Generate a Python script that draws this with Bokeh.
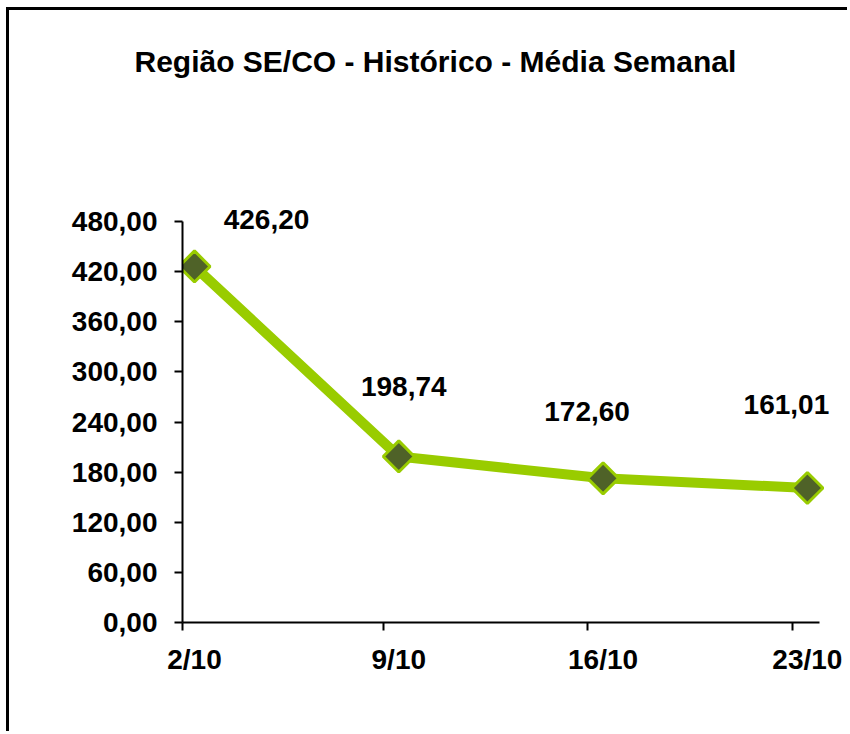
import math
from bokeh.plotting import figure
from bokeh.models import ColumnDataSource, Range1d, FixedTicker, LinearAxis
from bokeh.core.properties import value
from bokeh.embed import file_html
from bokeh.resources import INLINE

# ---- data ----
categories = ["2/10", "9/10", "16/10", "23/10"]
values = [426.20, 198.74, 172.60, 161.01]
value_labels = ["426,20", "198,74", "172,60", "161,01"]
y_ticks = [0, 60, 120, 180, 240, 300, 360, 420, 480]
title_text = "Região SE/CO - Histórico - Média Semanal"

# ---- style / placement ----
label_dx = [72, 5, -16, -21]
label_dy = [-47, -70, -67, -83]
FONT = "Liberation Sans"
LINE_GREEN = "#99CC00"
MARKER_FILL = "#4F6228"

xs = list(range(len(categories)))
x_start = -0.0587
x_end = 3.211
tick_shift = 0.075
x_tick_pos = [max(x - tick_shift, x_start) for x in xs]
y_axis_max = 480
y_view_max = 618.9

src = ColumnDataSource(dict(x=xs, y=values, lab=value_labels, dx=label_dx, dy=label_dy))

p = figure(width=841, height=724, output_backend="svg", toolbar_location=None,
           x_range=Range1d(x_start, x_end), y_range=Range1d(0, y_view_max),
           min_border_left=173, min_border_right=0, min_border_top=95,
           min_border_bottom=112, x_axis_location=None, y_axis_location=None,
           background_fill_color="white", border_fill_color="white")
p.outline_line_color = None
p.xgrid.visible = False
p.ygrid.visible = False
p.styles = {"border-left": "3px solid #000000", "border-top": "3px solid #000000",
            "margin-left": "6px", "margin-top": "7px"}

# title
p.title.text = title_text
p.title.text_font = FONT
p.title.text_font_style = "bold"
p.title.text_font_size = "30px"
p.title.text_color = "black"
p.title.align = "left"
p.title.offset = -48
p.title.standoff = 56

# y axis
yax = LinearAxis(bounds=(0, y_axis_max))
yax.ticker = FixedTicker(ticks=y_ticks)
yax.major_label_overrides = {t: f"{t:.2f}".replace(".", ",") for t in y_ticks}
yax.minor_tick_line_color = None
yax.major_tick_in = 0
yax.major_tick_out = 8
yax.major_tick_line_width = 2
yax.axis_line_width = 2
yax.axis_line_color = "black"
yax.major_tick_line_color = "black"
yax.major_label_text_font = FONT
yax.major_label_text_font_style = "bold"
yax.major_label_text_font_size = "28px"
yax.major_label_text_color = "black"
yax.major_label_standoff = 17
p.add_layout(yax, "left")

# x axis (tick marks only)
xax = LinearAxis(bounds=(x_start, 3 - x_start))
xax.ticker = FixedTicker(ticks=x_tick_pos)
xax.major_label_overrides = {t: "" for t in x_tick_pos}
xax.major_label_text_font_size = "1px"
xax.major_label_standoff = 0
xax.minor_tick_line_color = None
xax.major_tick_in = 0
xax.major_tick_out = 8
xax.major_tick_line_width = 2
xax.axis_line_width = 2
xax.axis_line_color = "black"
xax.major_tick_line_color = "black"
p.add_layout(xax, "below")

# x axis (category labels at the points)
xlab = LinearAxis()
xlab.ticker = FixedTicker(ticks=xs)
xlab.major_label_overrides = {x: c for x, c in zip(xs, categories)}
xlab.axis_line_color = None
xlab.major_tick_line_color = None
xlab.minor_tick_line_color = None
xlab.major_tick_in = 0
xlab.major_tick_out = 0
xlab.major_label_text_font = FONT
xlab.major_label_text_font_style = "bold"
xlab.major_label_text_font_size = "28px"
xlab.major_label_text_color = "black"
xlab.major_label_standoff = 13
p.add_layout(xlab, "below")

# series
p.line("x", "y", source=src, line_width=10, line_color=LINE_GREEN, line_join="round")
p.scatter("x", "y", source=src, marker="square", angle=math.pi / 4, size=22,
          fill_color=MARKER_FILL, line_color=LINE_GREEN, line_width=3)

p.text("x", "y", text="lab", source=src, x_offset="dx", y_offset="dy",
       text_align="center", text_baseline="alphabetic",
       text_font=value(FONT), text_font_style="bold", text_font_size="28px",
       text_color="black")

open("out.html", "w").write(file_html(p, INLINE))
